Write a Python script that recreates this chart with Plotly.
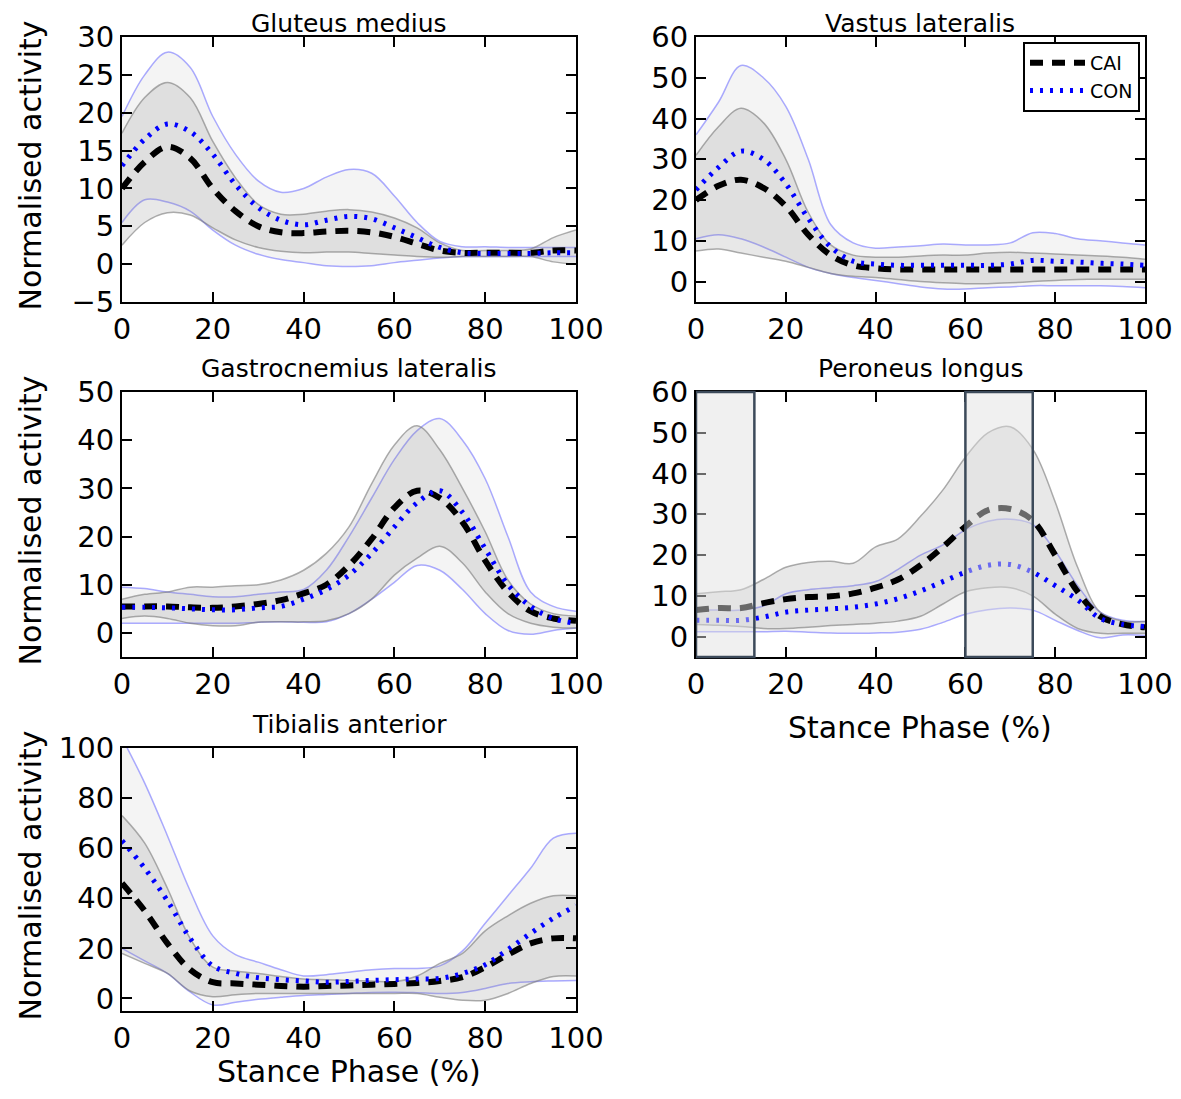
import plotly.graph_objects as go
from plotly.subplots import make_subplots

stance = [0, 5, 10, 15, 20, 25, 30, 35, 40, 45, 50, 55, 60, 65, 70, 75, 80, 85, 90, 95, 100]

# Gluteus medius
glu_cai_mean = [10, 13.5, 15.5, 14, 10, 7, 5, 4.2, 4.1, 4.3, 4.4, 4.2, 3.6, 2.7, 1.8, 1.5, 1.5, 1.5, 1.5, 1.8, 1.8]
glu_cai_hi = [17.3, 22, 24, 22, 16.2, 11.4, 7.9, 6.6, 6.6, 7, 7.2, 6.9, 6.1, 4.8, 2.8, 1.8, 1.8, 1.8, 2, 3.5, 4.5]
glu_cai_lo = [2.5, 5.5, 6.8, 6.5, 4.8, 3.2, 2.2, 1.7, 1.5, 1.6, 1.6, 1.4, 1.2, 1.0, 0.9, 1.0, 1.0, 1.0, 1.0, 0.3, 0.0]
glu_con_mean = [13, 16.5, 18.5, 17.5, 14.5, 10.5, 7.5, 5.8, 5.2, 5.8, 6.3, 6.0, 4.8, 3.5, 2.2, 1.5, 1.4, 1.4, 1.4, 1.5, 1.5]
glu_con_hi = [19.5, 25, 28, 26, 19.5, 14.5, 11, 9.5, 10, 11.5, 12.5, 12, 9, 5.5, 3, 2.3, 2.3, 2.2, 2.2, 2.2, 2.2]
glu_con_lo = [5.5, 8.5, 8.2, 7, 4.5, 2.5, 1.3, 0.6, 0.2, -0.2, -0.3, -0.2, 0.2, 0.5, 0.8, 1.0, 1.0, 1.0, 1.0, 1.0, 1.0]

# Vastus lateralis
vas_cai_mean = [20, 23.5, 25, 23, 18.5, 11.5, 6.5, 4, 3.3, 3, 3, 3, 3, 3, 3, 3, 3, 3, 3, 3, 3]
vas_cai_hi = [31, 38, 42.5, 39, 30, 17, 9, 6.5, 6, 6, 6.3, 6.5, 6.5, 7, 7.2, 7, 6.8, 6.5, 6.3, 6, 5.5]
vas_cai_lo = [7.5, 8, 7, 6, 5, 3.5, 2, 1.3, 1, 0.5, 0, -0.3, -0.5, -0.5, -0.3, 0, 0.3, 0.5, 0.6, 0.6, 0.6]
vas_con_mean = [22.5, 28, 32, 30, 24, 15.5, 8.5, 5, 4.3, 4, 4, 4, 4, 4, 4.3, 5.2, 5, 4.8, 4.5, 4.3, 4]
vas_con_hi = [36, 44, 53, 50, 43, 30, 14, 9.5, 8.2, 8.5, 8.8, 9.2, 9, 9, 9.5, 12, 11.8, 10.5, 10, 9.5, 9]
vas_con_lo = [10.5, 11.5, 10.5, 8.5, 6, 3.5, 2, 1, 0.3, -0.5, -1.3, -1.8, -1.8, -1.5, -1.3, -1, -1, -1, -1, -1.2, -1.5]

# Gastrocnemius lateralis
gas_cai_mean = [5.5, 5.5, 5.5, 5.3, 5.2, 5.5, 6, 6.8, 8.2, 10, 14, 19.5, 26, 29.5, 28, 23, 15, 8.5, 4.5, 3, 2.5]
gas_cai_hi = [7, 8, 8.5, 9.5, 9.5, 9.8, 10, 11, 13, 16.5, 22, 31, 39, 43, 38, 30, 21, 11, 6, 4, 3.5]
gas_cai_lo = [3, 3.5, 3, 2, 1.5, 1.5, 2.2, 2.3, 2.3, 2.5, 4, 7, 12, 15.5, 18, 14.5, 8.5, 4, 2, 1.2, 1]
gas_con_mean = [5.3, 5.3, 5.2, 5, 4.8, 4.8, 5.2, 5.5, 7, 9, 12, 16.5, 22, 27, 29.5, 25, 17.5, 10, 5.5, 3, 2]
gas_con_hi = [9.5, 9.2, 8.5, 8, 7.5, 7.5, 8, 8.5, 9, 13, 20, 28, 36, 42, 44.5, 40, 32, 20, 8.5, 5.5, 4.5]
gas_con_lo = [2, 2, 2, 2, 2, 2, 2.2, 2.3, 2.2, 2.3, 4, 7, 10.5, 14, 13, 9, 4, 0.5, -0.3, 0.5, 1]

# Peroneus longus
per_cai_mean = [6.5, 7, 7, 8.2, 9.2, 9.7, 9.9, 10.6, 12, 14, 17.5, 22, 27, 31, 31.3, 28.5, 20, 11, 5, 3, 2.3]
per_cai_hi = [10.5, 11, 11.5, 14, 17, 18.2, 18.5, 18, 22, 24, 29.5, 36, 44, 50, 51.5, 46, 33, 17, 6, 3.8, 3.7]
per_cai_lo = [3, 2.8, 2.5, 2, 2, 2.3, 2.7, 3, 3.3, 3.8, 5, 8, 11, 12, 12, 10, 5.5, 2, 0.8, 0.8, 0.8]
per_con_mean = [4, 4, 4, 4.8, 6, 6.5, 6.8, 7.2, 8, 9.3, 11.2, 13.5, 15.8, 17.5, 17.7, 15.8, 12.5, 9, 4.5, 3, 2.5]
per_con_hi = [6.5, 6.5, 6.5, 7.5, 10.5, 11.5, 12, 12.5, 13.5, 16.5, 20, 22.5, 26.2, 28.3, 28.8, 27.5, 21, 12.5, 6, 4, 3.7]
per_con_lo = [1.2, 1.2, 1.2, 1.2, 1.3, 1.1, 0.9, 0.8, 0.9, 1.1, 1.8, 3.5, 5.5, 6.6, 7, 6.5, 4, 1.5, -0.3, 0.4, 0.3]

# Tibialis anterior
tib_cai_mean = [46, 35, 22, 11.5, 6.5, 6, 5.5, 5, 4.7, 5, 5.2, 5.5, 5.8, 6.2, 7, 8.5, 12.5, 17.5, 22, 24, 24]
tib_cai_hi = [73, 62, 44, 24, 12.5, 11, 10, 8.8, 7.8, 7.5, 7.2, 7, 6.7, 9, 14, 18, 27, 33, 38, 41, 41]
tib_cai_lo = [18, 14, 10, 3, 0.7, 1.5, 2, 2, 2, 2, 2, 2, 2, 2, 0.5, -0.7, -0.7, 2, 6, 8.8, 9]
tib_con_mean = [63, 52, 39, 24, 13, 10, 8.3, 7.5, 7, 6.5, 6.8, 7.2, 7.5, 7.8, 8, 10, 13.5, 19.5, 26, 32, 37]
tib_con_hi = [104, 86, 65, 43, 25, 17.5, 14.5, 11.5, 9, 9.5, 10.5, 11.5, 12, 12, 13, 19, 30, 41, 52, 64, 66]
tib_con_lo = [20, 15, 10, 2.6, -2.6, -1.5, -0.3, 0.5, 1.2, 1.6, 2, 2.4, 2.5, 2.3, 2, 2.4, 4, 6, 6.7, 7, 7.2]

titles = ["Gluteus medius", "Vastus lateralis", "Gastrocnemius lateralis", "Peroneus longus", "Tibialis anterior"]
y_ranges = [[-5, 30], [-5, 60], [-5, 50], [-5, 60], [-5, 100]]
y_dticks = [5, 10, 10, 10, 20]
shaded = [[0, 13], [60, 75]]  # peroneus longus significant regions

panels = [
    (glu_cai_mean, glu_cai_lo, glu_cai_hi, glu_con_mean, glu_con_lo, glu_con_hi),
    (vas_cai_mean, vas_cai_lo, vas_cai_hi, vas_con_mean, vas_con_lo, vas_con_hi),
    (gas_cai_mean, gas_cai_lo, gas_cai_hi, gas_con_mean, gas_con_lo, gas_con_hi),
    (per_cai_mean, per_cai_lo, per_cai_hi, per_con_mean, per_con_lo, per_con_hi),
    (tib_cai_mean, tib_cai_lo, tib_cai_hi, tib_con_mean, tib_con_lo, tib_con_hi),
]
cells = [(1, 1), (1, 2), (2, 1), (2, 2), (3, 1)]

# the page body adds 8px around the figure: keep the figure inside the window
OFF = 8
W, H = 1181 - 2 * OFF, 1099 - 2 * OFF


def px(x):
    return (x - OFF) / W


def py(y):
    return 1 - (y - OFF) / H


x_dom = {1: [px(122), px(576)], 2: [px(696), px(1145)]}
y_dom = {1: [py(302), py(37)], 2: [py(657), py(392)], 3: [py(1011), py(748)]}
title_y = {1: 23.5, 2: 369, 3: 724}

FONT = "DejaVu Sans"
fig = make_subplots(rows=3, cols=2)

for i, ((cm, clo, chi, nm, nlo, nhi), (r, c)) in enumerate(zip(panels, cells)):
    first = i == 0
    # CON band (light) with blue edges
    fig.add_trace(go.Scatter(x=stance, y=nlo, mode="lines", line=dict(color="rgba(90,90,255,0.5)", width=1.5, shape="spline"),
                             showlegend=False, hoverinfo="skip"), row=r, col=c)
    fig.add_trace(go.Scatter(x=stance, y=nhi, mode="lines", fill="tonexty", fillcolor="rgba(200,200,200,0.2)",
                             line=dict(color="rgba(90,90,255,0.5)", width=1.5, shape="spline"),
                             showlegend=False, hoverinfo="skip"), row=r, col=c)
    # CAI band (darker) with gray edges
    fig.add_trace(go.Scatter(x=stance, y=clo, mode="lines", line=dict(color="rgba(120,120,120,0.6)", width=1.5, shape="spline"),
                             showlegend=False, hoverinfo="skip"), row=r, col=c)
    fig.add_trace(go.Scatter(x=stance, y=chi, mode="lines", fill="tonexty", fillcolor="rgba(140,140,140,0.2)",
                             line=dict(color="rgba(120,120,120,0.6)", width=1.5, shape="spline"),
                             showlegend=False, hoverinfo="skip"), row=r, col=c)
    # means
    fig.add_trace(go.Scatter(x=stance, y=cm, mode="lines", name="CAI",
                             line=dict(color="black", width=6, dash="13px,9px", shape="spline"),
                             showlegend=first), row=r, col=c)
    fig.add_trace(go.Scatter(x=stance, y=nm, mode="lines", name="CON",
                             line=dict(color="blue", width=5, dash="3px,7px", shape="spline"),
                             showlegend=first), row=r, col=c)

axis_style = dict(showline=True, linecolor="black", linewidth=2, mirror="allticks", ticks="inside",
                  ticklen=10, tickwidth=1.5, tickcolor="black", showgrid=False, zeroline=False, automargin=False,
                  tickfont=dict(family=FONT, size=29, color="black"))

for i, (r, c) in enumerate(cells):
    fig.update_xaxes(domain=x_dom[c], range=[0, 100], tickvals=[0, 20, 40, 60, 80, 100], row=r, col=c, **axis_style)
    fig.update_yaxes(domain=y_dom[r], range=y_ranges[i], dtick=y_dticks[i], tick0=0, row=r, col=c, **axis_style)
fig.update_xaxes(visible=False, row=3, col=2)
fig.update_yaxes(visible=False, row=3, col=2)

annotations = []
for i, (r, c) in enumerate(cells):
    xd = x_dom[c]
    annotations.append(dict(text=titles[i], x=(xd[0] + xd[1]) / 2, y=py(title_y[r]), xref="paper", yref="paper",
                            xanchor="center", yanchor="middle", showarrow=False,
                            font=dict(family=FONT, size=25, color="black")))
for r in (1, 2, 3):
    yd = y_dom[r]
    annotations.append(dict(text="Normalised activity", x=px(30), y=(yd[0] + yd[1]) / 2 + 4 / H, xref="paper", yref="paper",
                            textangle=-90, xanchor="center", yanchor="middle", showarrow=False,
                            font=dict(family=FONT, size=30, color="black")))
for (r, c), ty in (((2, 2), 727), ((3, 1), 1071)):
    xd = x_dom[c]
    annotations.append(dict(text="Stance Phase (%)", x=(xd[0] + xd[1]) / 2, y=py(ty), xref="paper", yref="paper",
                            xanchor="center", yanchor="middle", showarrow=False,
                            font=dict(family=FONT, size=30, color="black")))

shapes = []
for x0, x1 in shaded:
    shapes.append(dict(type="rect", xref="x4", yref="y4 domain", x0=x0, x1=x1, y0=0, y1=1, layer="above",
                       fillcolor="rgba(223,223,223,0.47)", line=dict(color="#3c4a5a", width=2.5)))

fig.update_layout(
    width=W, height=H, margin=dict(l=0, r=0, t=0, b=0),
    paper_bgcolor="white", plot_bgcolor="white",
    font=dict(family=FONT, color="black"),
    annotations=annotations, shapes=shapes,
    legend=dict(x=px(1140), y=py(42), xanchor="right", yanchor="top", bordercolor="black", borderwidth=2,
                bgcolor="white", font=dict(family=FONT, size=19), traceorder="normal", itemwidth=55),
)

fig.write_html("out.html")
